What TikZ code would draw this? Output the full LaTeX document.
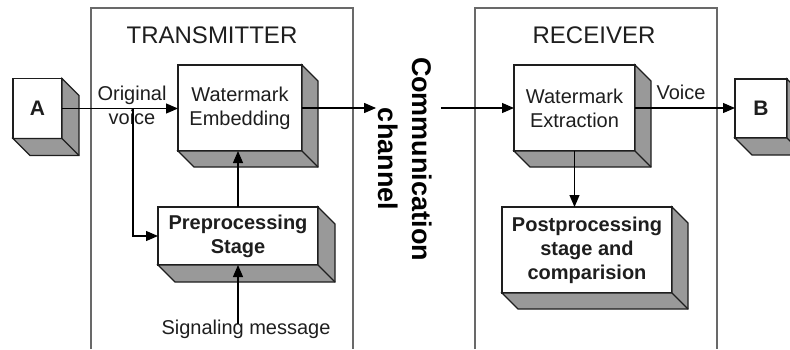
\documentclass[tikz,border=0pt]{standalone}
\usepackage{fontspec}
\setmainfont{Liberation Sans}
\usetikzlibrary{arrows.meta}
\definecolor{sidegray}{RGB}{153,153,153}
\definecolor{framegray}{RGB}{105,105,105}
\definecolor{inkc}{RGB}{30,30,30}
\newcommand\extrude[2]{%
  \filldraw[fill=sidegray,draw=inkc,line width=1.3pt,line join=miter]
    (#1.north east) -- ++(#2,#2) -- ([shift={(#2,#2)}]#1.south east)
    -- ([shift={(#2,#2)}]#1.south west) -- (#1.south west) -- (#1.south east) -- cycle;
  \draw[inkc,line width=1.3pt] (#1.south east) -- ++(#2,#2);
}
\begin{document}
\begin{tikzpicture}[x=1pt,y=-1pt,
  box/.style={draw=inkc,line width=1.3pt,fill=white,inner sep=0pt,outer sep=0pt,align=center,text=inkc},
  plainbox/.style={box,font=\fontsize{20}{24}\selectfont},
  boldbox/.style={box,font=\fontsize{20}{24}\selectfont\bfseries},
  letterbox/.style={box,font=\fontsize{21}{25}\selectfont\bfseries},
  lbl/.style={font=\fontsize{20}{24}\selectfont,inner sep=0pt,outer sep=0pt,align=center,text=inkc},
  title/.style={font=\fontsize{24}{28}\selectfont,inner sep=0pt,text=inkc},
  arr/.style={draw=black,line width=1.2pt,-{Triangle[length=12pt,width=10pt]}},
  plainline/.style={draw=black,line width=1.2pt},
  frame/.style={draw=framegray,line width=1.1pt}]
\useasboundingbox (0,0) rectangle (790,349);

% frames
\draw[frame] (91,349) -- (91,8) -- (353,8) -- (353,349);
\draw[frame] (475,349) -- (475,8) -- (717,8) -- (717,349);
\node[title,anchor=base] (tx) at (212,43) {TRANSMITTER};
\node[title,anchor=base] (rx) at (594,43) {RECEIVER};

% boxes
\node[letterbox,minimum width=49pt,minimum height=60pt] (A) at (37.5,108.5) {A};
\extrude{A}{17}
\node[plainbox,minimum width=124pt,minimum height=86pt] (Emb) at (240,108) {Watermark\\Embedding};
\extrude{Emb}{16}
\node[boldbox,minimum width=160pt,minimum height=58pt] (Pre) at (238,236) {Preprocessing\\Stage};
\extrude{Pre}{17}
\node[plainbox,minimum width=121pt,minimum height=86pt] (Ext) at (574.5,108) {Watermark\\Extraction};
\extrude{Ext}{16}
\node[boldbox,minimum width=170pt,minimum height=86pt] (Post) at (587,250) {Postprocessing\\stage and\\comparision};
\extrude{Post}{16}
\node[letterbox,minimum width=52pt,minimum height=59pt] (B) at (761,108.5) {B};
\extrude{B}{17}

% labels
\node[lbl] (orig) at (132,105.5) {Original\\voice};
\node[lbl,anchor=base] (voice) at (681,99) {Voice};
\node[lbl,anchor=base] (sig) at (246,334) {Signaling message};
\node[font=\fontsize{27}{34}\selectfont\bfseries,rotate=-90,align=center,inner sep=2pt,outer sep=0pt,text=black] (chan) at (405,159) {Communication\\channel};

% connectors
\draw[arr] (A.east) -- (A.east -| Emb.west);
\coordinate (br) at (133,0);
\draw[arr] (br |- A.east) |- (Pre.west);
\draw[arr] (Pre.north) -- (Pre.north |- Emb.south);
\draw[arr] ([yshift=-4pt]Pre.south |- sig.north) -- (Pre.south);
\draw[arr] (Emb.east) -- (Emb.east -| chan.south);
\draw[arr] ([xshift=7pt]chan.north |- Ext.west) -- (Ext.west);
\draw[arr] (Ext.east) -- (Ext.east -| B.west);
\draw[arr] (Ext.south) -- (Ext.south |- Post.north);
\end{tikzpicture}
\end{document}
